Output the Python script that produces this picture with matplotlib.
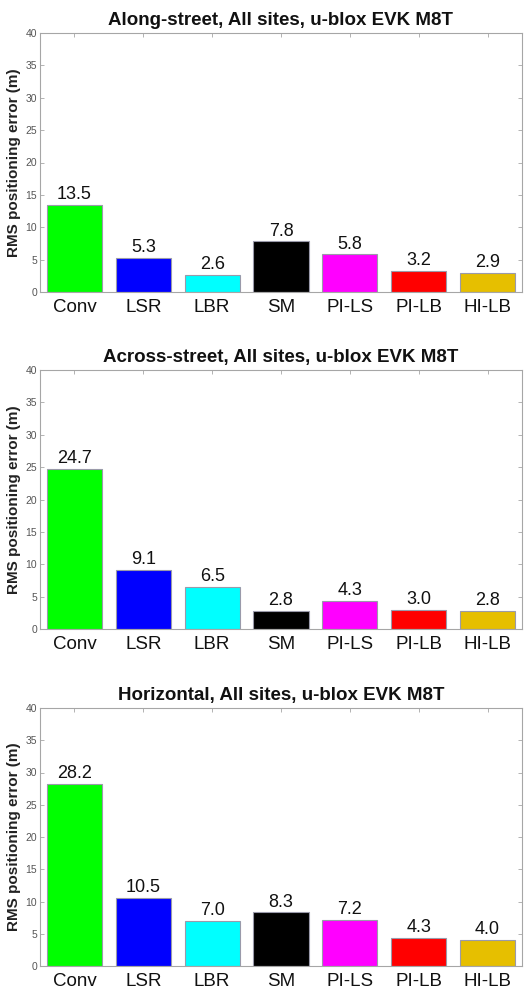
import matplotlib
matplotlib.use("Agg")
import matplotlib.pyplot as plt
import numpy as np

plt.rcParams["font.family"] = ["Liberation Sans", "DejaVu Sans"]

methods = ["Conv", "LSR", "LBR", "SM", "PI-LS", "PI-LB", "HI-LB"]
bar_colors = ["#00FF00", "#0000FF", "#00FFFF", "#000000", "#FF00FF", "#FF0000", "#E6BF00"]

along_street = [13.5, 5.3, 2.6, 7.8, 5.8, 3.2, 2.9]
across_street = [24.7, 9.1, 6.5, 2.8, 4.3, 3.0, 2.8]
horizontal = [28.2, 10.5, 7.0, 8.3, 7.2, 4.3, 4.0]

titles = [
    "Along-street, All sites, u-blox EVK M8T",
    "Across-street, All sites, u-blox EVK M8T",
    "Horizontal, All sites, u-blox EVK M8T",
]
yticks = [0, 5, 10, 15, 20, 25, 30, 35, 40]

W, H = 525, 991
fig = plt.figure(figsize=(W / 100, H / 100), dpi=100)

# axes boxes in pixels: (left, top, right, bottom)
boxes = [(40, 33, 522, 292), (40, 370, 522, 629), (40, 708, 522, 966)]
axis_c = "#A6A6A6"

for (l, t, r, b), title, vals in zip(boxes, titles, [along_street, across_street, horizontal]):
    ax = fig.add_axes([l / W, 1 - b / H, (r - l) / W, (b - t) / H])
    x = np.arange(1, len(methods) + 1)
    ax.bar(x, vals, width=0.8, color=bar_colors, edgecolor="#9A9AAA", linewidth=0.8, zorder=2)
    for xi, v in zip(x, vals):
        ax.text(xi, v + 0.3, f"{v:.1f}", ha="center", va="bottom", fontsize=13, color="#111111")
    ax.set_xlim(0.5, len(methods) + 0.5)
    ax.set_ylim(0, 40)
    ax.set_xticks(x)
    ax.set_xticklabels(methods, fontsize=13.5, color="#111111")
    ax.set_yticks(yticks)
    ax.set_yticklabels([str(v) for v in yticks], fontsize=7.5, color="#555555")
    ax.tick_params(axis="both", direction="in", length=3, width=0.6, color=axis_c,
                   top=True, right=True)
    ax.tick_params(axis="x", pad=5)
    ax.tick_params(axis="y", pad=2)
    for sp in ax.spines.values():
        sp.set_color(axis_c)
        sp.set_linewidth(0.8)
    ax.set_title(title, fontsize=13.5, fontweight="bold", color="#111111", pad=6)
    ax.set_ylabel("RMS positioning error (m)", fontsize=11, fontweight="bold",
                  color="#222222", labelpad=3)

fig.savefig("out.png", dpi=100, facecolor="white")
